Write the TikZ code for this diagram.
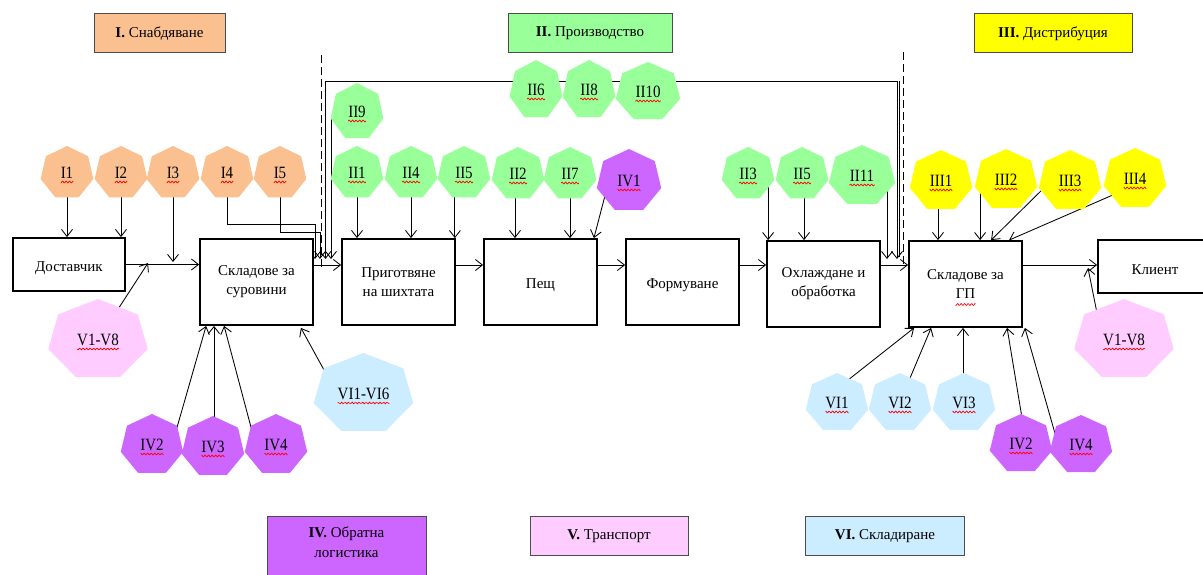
\documentclass[tikz,border=0pt]{standalone}
\usepackage{fontspec}
\setmainfont{Liberation Serif}
\usetikzlibrary{arrows.meta,shapes.geometric,calc}
\newcommand\fs{\fontsize{15}{19}\selectfont}
\definecolor{cor}{RGB}{250,192,144}
\definecolor{grn}{RGB}{153,255,153}
\definecolor{yel}{RGB}{255,255,0}
\definecolor{pur}{RGB}{204,102,255}
\definecolor{pnk}{RGB}{255,204,255}
\definecolor{blu}{RGB}{204,236,255}
\pgfdeclarelayer{bg}
\pgfsetlayers{bg,main}
\tikzset{
  procbox/.style={draw, line width=1.8pt, fill=white, align=center, font=\fs, inner sep=2pt,
    execute at begin node={\rule{0pt}{17pt}}},
  legbox/.style={draw=black!70, line width=1pt, align=center, font=\fs, minimum height=39},
  arr/.style={-{Straight Barb[length=7pt,width=11pt]}, line width=0.85pt},
  arrtwo/.style={{Straight Barb[length=7pt,width=11pt]}-{Straight Barb[length=7pt,width=11pt]}, line width=0.85pt},
  ln/.style={line width=0.85pt},
  sep/.style={line width=0.8pt, dash pattern=on 8pt off 4pt},
  squig/.style={red, line width=0.7pt},
  hept/.style n args={3}{ellipse, inner sep=0pt, font=\fs, minimum width={2*#1}, minimum height={2*#2},
    path picture={\fill[#3] ([shift={(90:#1 and #2)}]path picture bounding box.center)
      foreach \k in {1,...,6}{ -- ([shift={({90+\k*360/7}:#1 and #2)}]path picture bounding box.center)} -- cycle;}}
}
% wavy red underline: node, half width, offset below centre
\newcommand\wavyline[3]{%
  \draw[squig, shift={(#1.center)}] plot[domain=-#2:#2, samples=40, smooth] (\x, {#3+0.9*sin(\x*360/3.5)});}
% name, x, y, rx, ry, colour, label, half width of label
\newcommand\heptn[8]{%
  \node[hept={#4pt}{#5pt}{#6}] (#1) at (#2,#3) {\scalebox{1}[1.15]{#7}};
  \wavyline{#1}{#8}{9}}
\begin{document}
\begin{tikzpicture}[x=1pt,y=-1pt]
\useasboundingbox (0,0) rectangle (1203,575);

% legend boxes
\node[legbox, fill=cor, minimum width=131] (L1) at (159.5,33.5) {\textbf{I.} Снабдяване};
\node[legbox, fill=grn, minimum width=164] (L2) at (590,33.5) {\textbf{II.} Производство};
\node[legbox, fill=yel, minimum width=158] (L3) at (1053,33.5) {\textbf{III.} Дистрибуция};
\node[legbox, fill=pur, minimum width=159, minimum height=80, anchor=north,
  label={[align=center, anchor=north, font=\fontsize{15}{20}\selectfont, yshift=-7pt]north:{\textbf{IV.} Обратна\\логистика}}] (L4) at (346.5,516) {};
\node[legbox, fill=pnk, minimum width=158] (L5) at (609,536) {\textbf{V.} Транспорт};
\node[legbox, fill=blu, minimum width=159] (L6) at (885,536) {\textbf{VI.} Складиране};

% process boxes
\node[procbox, minimum width=112, minimum height=53] (dost) at (69,264.5) {Доставчик};
\node[procbox, minimum width=113, minimum height=86] (sklS) at (256.5,282) {Складове за\\суровини};
\node[procbox, minimum width=113, minimum height=86] (prig) at (398.5,282) {Приготвяне\\на шихтата};
\node[procbox, minimum width=113, minimum height=86] (pech) at (540.5,282) {Пещ};
\node[procbox, minimum width=113, minimum height=86] (form) at (682.5,282) {Формуване};
\node[procbox, minimum width=113, minimum height=86] (ohl) at (823.5,284) {Охлаждане и\\обработка};
\node[procbox, minimum width=113, minimum height=86] (sklGP) at (965.5,284) {Складове за\\ГП};
\wavyline{sklGP}{10}{20.5}
\node[procbox, minimum width=114, minimum height=53] (klient) at (1155,266.5) {Клиент};

% heptagons
\heptn{I1}{67}{173}{27}{27}{cor}{I1}{6.3}
\heptn{I2}{121}{173}{27}{27}{cor}{I2}{6.3}
\heptn{I3}{173}{173}{27}{27}{cor}{I3}{6.3}
\heptn{I4}{227}{173}{27}{27}{cor}{I4}{6.3}
\heptn{I5}{280}{173}{27}{27}{cor}{I5}{6.3}

\heptn{II9}{357}{112}{27}{29}{grn}{II9}{8.8}
\heptn{II6}{536}{90}{27}{30}{grn}{II6}{8.8}
\heptn{II8}{589}{90}{27}{30}{grn}{II8}{8.8}
\heptn{II10}{648}{92}{33}{30}{grn}{II10}{12.5}
\heptn{II1}{357}{173}{27}{27}{grn}{II1}{8.8}
\heptn{II4}{411}{173}{27}{27}{grn}{II4}{8.8}
\heptn{II5}{464}{173}{27}{27}{grn}{II5}{8.8}
\heptn{II2}{518}{174}{27}{27}{grn}{II2}{8.8}
\heptn{II7}{570}{174}{27}{27}{grn}{II7}{8.8}
\heptn{IV1}{629}{181}{33}{32}{pur}{IV1}{11.7}
\heptn{II3}{748}{174}{27}{27}{grn}{II3}{8.8}
\heptn{II5b}{802}{174}{27}{27}{grn}{II5}{8.8}
\heptn{II11}{862}{176}{34}{31}{grn}{II11}{12.5}

\heptn{III1}{941}{181}{32}{31}{yel}{III1}{11.3}
\heptn{III2}{1006}{180}{32}{31}{yel}{III2}{11.3}
\heptn{III3}{1070}{181}{32}{31}{yel}{III3}{11.3}
\heptn{III4}{1135}{179}{32}{31}{yel}{III4}{11.3}

\heptn{VL}{98}{340}{51}{41}{pnk}{V1-V8}{20.8}
\heptn{VR}{1124}{340}{51}{41}{pnk}{V1-V8}{20.8}
\heptn{VIL}{363.5}{394}{51}{41}{blu}{VI1-VI6}{25.8}

\heptn{IV2L}{152}{445}{32}{31}{pur}{IV2}{11.7}
\heptn{IV3L}{213}{447}{32}{31}{pur}{IV3}{11.7}
\heptn{IV4L}{276}{445}{32}{31}{pur}{IV4}{11.7}

\heptn{VI1}{837}{403}{32}{30}{blu}{VI1}{11.7}
\heptn{VI2}{900}{403}{32}{30}{blu}{VI2}{11.7}
\heptn{VI3}{964}{403}{32}{30}{blu}{VI3}{11.7}
\heptn{IV2R}{1021}{444}{32}{30}{pur}{IV2}{11.7}
\heptn{IV4R}{1081}{445}{32}{30}{pur}{IV4}{11.7}

% helper coordinates
\coordinate (fl) at (0,265);
\coordinate (dA1) at (321,55);   \coordinate (dA2) at (321,270);
\coordinate (dB1) at (903,52);   \coordinate (dB2) at (903,266);
\coordinate (e3) at (173,262);
\coordinate (c4) at (315,224);   \coordinate (e4) at (315,259);
\coordinate (c5) at (320,232);   \coordinate (e5) at (320,259);
\coordinate (eL) at (325.5,259); \coordinate (tR) at (897,81);   \coordinate (eR) at (897,259);
\coordinate (tR2) at (899.5,81); \coordinate (eR2) at (899.5,257);
\coordinate (e9) at (331,259);
\coordinate (e11) at (887,259);
\coordinate (v1) at (148,263);
\coordinate (v2) at (1088,268);
\coordinate (p5) at ($(prig.north east)+(-1,0)$);
\coordinate (q1) at ($(pech.north east)+(-4,0)$);
\coordinate (o3) at ($(ohl.north west)+(2,0)$);
\coordinate (g2) at ($(sklGP.north west)+(72,0)$);
\coordinate (g3) at ($(sklGP.north west)+(83,0)$);
\coordinate (g4) at ($(sklGP.north west)+(101,0)$);
\coordinate (h1) at ($(sklGP.south west)+(6,0)$);
\coordinate (h2) at ($(sklGP.south west)+(23,0)$);
\coordinate (h4) at ($(sklGP.south west)+(99,0)$);
\coordinate (h5) at ($(sklGP.south east)+(2,0)$);
\coordinate (s1) at ($(sklS.south west)+(7,0)$);
\coordinate (s3) at ($(sklS.south west)+(25,0)$);
\coordinate (s4) at ($(sklS.south east)+(-13,2)$);

\begin{pgfonlayer}{bg}
\draw[sep] (dA1) -- (dA2);
\draw[sep] (dB1) -- (dB2);

% main flow
\draw[arr] (dost.east) -- (sklS.west |- dost.east);
\draw[arr] (sklS.east |- fl) -- (prig.west |- fl);
\draw[arr] (prig.east |- fl) -- (pech.west |- fl);
\draw[arr] (pech.east |- fl) -- (form.west |- fl);
\draw[arr] (form.east |- fl) -- (ohl.west |- fl);
\draw[arr] (ohl.east |- fl) -- (sklGP.west |- fl);
\draw[arr] (sklGP.east |- fl) -- (klient.west |- fl);

% supply
\draw[arr] (I1.center) -- (I1.center |- dost.north);
\draw[arr] (I2.center) -- (I2.center |- dost.north);
\draw[arr] (I3.center) -- (e3);
\draw[arr] (I4.center) |- (c4) -- (e4);
\draw[arr] (I5.center) |- (c5) -- (e5);
\draw[arr] (VL.center) -- (v1);

% production loop
\draw[arrtwo] (eL) |- (tR) -- (eR);
\draw[ln] (tR2) -- (eR2);
\draw[arr] (II9.center) ++(0,5) -| (e9);
\draw[arr] (II1.center) -- (II1.center |- prig.north);
\draw[arr] (II4.center) -- (II4.center |- prig.north);
\draw[arr] (p5 |- II5.center) -- (p5);
\draw[arr] ([xshift=-3pt]II2.center) -- ([xshift=-3pt]II2.center |- pech.north);
\draw[arr] (II7.center) -- (II7.center |- pech.north);
\draw[arr] ($(IV1.center)+(-22,7)$) -- (q1);
\draw[arr] (o3 |- II3.center) -- (o3);
\draw[arr] ([xshift=2pt]II5b.center) -- ([xshift=2pt]II5b.center |- ohl.north);
\draw[arr] (e11 |- II11.center) -- (e11);

% distribution
\draw[arr] ([xshift=-3pt]III1.center) -- ([xshift=-3pt]III1.center |- sklGP.north);
\draw[arr] (g2 |- III2.center) -- (g2);
\draw[arr] ($(III3.center)+(-20,1)$) -- (g3);
\draw[arr] ($(III4.center)+(-13,12)$) -- (g4);
\draw[arr] ($(VR.center)+(-25,-17)$) -- (v2);

% raw material warehouse inputs
\draw[arr] ($(IV2L.center)+(24,-14)$) -- (s1);
\draw[arr] ([xshift=1pt]IV3L.center) -- ([xshift=1pt]IV3L.center |- sklS.south);
\draw[arr] ($(IV4L.center)+(-24,-14)$) -- (s3);
\draw[arr] ($(VIL.center)+(-34,-14)$) -- (s4);

% finished goods warehouse inputs
\draw[arr] ($(VI1.center)+(6,-19)$) -- (h1);
\draw[arr] ($(VI2.center)+(5,-13)$) -- (h2);
\draw[arr] ([xshift=-1pt]VI3.center) -- ([xshift=-1pt]VI3.center |- sklGP.south);
\draw[arr] ($(IV2R.center)+(3,-14)$) -- (h4);
\draw[arr] ($(IV4R.center)+(-23,-1)$) -- (h5);
\end{pgfonlayer}
\end{tikzpicture}
\end{document}
